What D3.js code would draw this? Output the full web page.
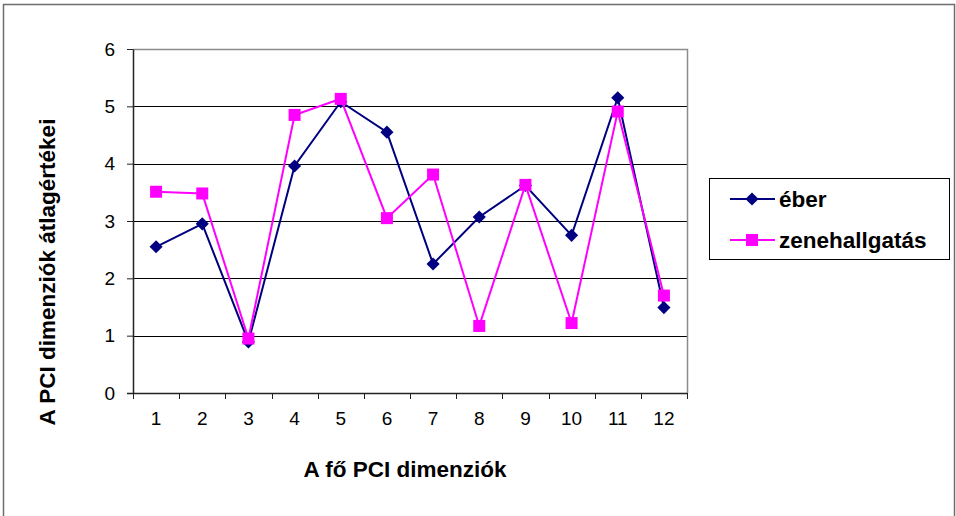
<!DOCTYPE html>
<html>
<head>
<meta charset="utf-8">
<script src="https://cdn.jsdelivr.net/npm/d3@7"></script>
<style>
  html, body { margin: 0; padding: 0; background: #fff; }
  svg { display: block; }
  text { font-family: Arial, "Liberation Sans", sans-serif; }
</style>
</head>
<body>
<svg id="chart" width="956" height="516"></svg>
<script>
// Categories: the 12 main PCI dimensions
const categories = ["1", "2", "3", "4", "5", "6", "7", "8", "9", "10", "11", "12"];
// Mean values per dimension
const eber = [2.55, 2.95, 0.89, 3.96, 5.08, 4.55, 2.25, 3.07, 3.62, 2.75, 5.15, 1.49];
const zenehallgatas = [3.51, 3.48, 0.95, 4.85, 5.13, 3.05, 3.81, 1.17, 3.63, 1.22, 4.91, 1.70];
const yTicks = [0, 1, 2, 3, 4, 5, 6];
const seriesNames = ["éber", "zenehallgatás"];

const svg = d3.select("#chart");

// Outer chart frame
svg.append("rect")
  .attr("x", 3.5).attr("y", 4.5)
  .attr("width", 951).attr("height", 520)
  .attr("fill", "#fff")
  .attr("stroke", "#6e6e6e").attr("stroke-width", 1.5);

const plot = { left: 133, right: 687, top: 49, bottom: 393 };

const x = d3.scaleBand().domain(categories).range([plot.left, plot.right]);
const y = d3.scaleLinear().domain([0, 6]).range([plot.bottom, plot.top]);

// Horizontal gridlines
svg.append("g")
  .selectAll("line")
  .data(yTicks.filter(t => t > 0 && t < 6))
  .join("line")
  .attr("x1", plot.left).attr("x2", plot.right)
  .attr("y1", d => Math.round(y(d)) + 0.5).attr("y2", d => Math.round(y(d)) + 0.5)
  .attr("stroke", "#000").attr("stroke-width", 1);

// Plot-area border (top and right)
svg.append("path")
  .attr("d", `M${plot.left},${plot.top + 0.5}H${plot.right + 0.5}V${plot.bottom}`)
  .attr("fill", "none")
  .attr("stroke", "#8c8c8c").attr("stroke-width", 1.5);

// Y axis
const yAxis = svg.append("g")
  .attr("transform", `translate(${plot.left},0)`)
  .call(d3.axisLeft(y).tickValues(yTicks).tickFormat(d3.format("d"))
    .tickSize(6).tickPadding(12).tickSizeOuter(0));
yAxis.select(".domain").attr("stroke", "#222").attr("stroke-width", 1.5);
yAxis.selectAll(".tick line").attr("stroke", "#222");
yAxis.selectAll("text").attr("font-size", 19).attr("fill", "#000")
  .attr("font-family", "Arial, 'Liberation Sans', sans-serif");

// X axis: ticks on category boundaries, labels centred in each band
const boundaries = categories.map(c => x(c)).concat([plot.right]);
const xAxisG = svg.append("g");
xAxisG.append("line")
  .attr("x1", plot.left - 6).attr("x2", plot.right)
  .attr("y1", plot.bottom + 0.5).attr("y2", plot.bottom + 0.5)
  .attr("stroke", "#222").attr("stroke-width", 1.5);
xAxisG.selectAll(".bt")
  .data(boundaries)
  .join("line")
  .attr("x1", d => Math.round(d) + 0.5).attr("x2", d => Math.round(d) + 0.5)
  .attr("y1", plot.bottom).attr("y2", plot.bottom + 6)
  .attr("stroke", "#222");
xAxisG.selectAll("text")
  .data(categories)
  .join("text")
  .attr("x", d => x(d) + x.bandwidth() / 2)
  .attr("y", plot.bottom + 32)
  .attr("text-anchor", "middle")
  .attr("font-size", 19)
  .text(d => d);

// Series
const cx = d => x(d) + x.bandwidth() / 2;
const line = d3.line()
  .x((d, i) => cx(categories[i]))
  .y(d => y(d));

const diamond = d3.symbol().type(d3.symbolDiamond2).size(110);

// éber – navy line with diamonds
svg.append("path")
  .datum(eber)
  .attr("d", line)
  .attr("fill", "none")
  .attr("stroke", "#000080").attr("stroke-width", 2);
svg.append("g")
  .selectAll("path")
  .data(eber)
  .join("path")
  .attr("d", diamond)
  .attr("transform", (d, i) => `translate(${cx(categories[i])},${y(d)})`)
  .attr("fill", "#000080");

// zenehallgatás – magenta line with squares
svg.append("path")
  .datum(zenehallgatas)
  .attr("d", line)
  .attr("fill", "none")
  .attr("stroke", "#ff00ff").attr("stroke-width", 2);
const sq = 12;
svg.append("g")
  .selectAll("rect")
  .data(zenehallgatas)
  .join("rect")
  .attr("x", (d, i) => cx(categories[i]) - sq / 2)
  .attr("y", d => y(d) - sq / 2)
  .attr("width", sq).attr("height", sq)
  .attr("fill", "#ff00ff");

// Legend
const legend = svg.append("g");
legend.append("rect")
  .attr("x", 709.5).attr("y", 178.5)
  .attr("width", 240).attr("height", 81)
  .attr("fill", "#fff").attr("stroke", "#000").attr("stroke-width", 1);
const legendRows = [199, 240];
const legendColors = ["#000080", "#ff00ff"];
seriesNames.forEach((name, i) => {
  const ly = legendRows[i];
  legend.append("line")
    .attr("x1", 730).attr("x2", 775)
    .attr("y1", ly).attr("y2", ly)
    .attr("stroke", legendColors[i]).attr("stroke-width", 2);
  if (i === 0) {
    legend.append("path")
      .attr("d", diamond)
      .attr("transform", `translate(752,${ly})`)
      .attr("fill", legendColors[i]);
  } else {
    legend.append("rect")
      .attr("x", 752 - sq / 2).attr("y", ly - sq / 2)
      .attr("width", sq).attr("height", sq)
      .attr("fill", legendColors[i]);
  }
  legend.append("text")
    .attr("x", 779).attr("y", ly + 8)
    .attr("font-size", 22.5).attr("font-weight", "bold")
    .text(name);
});

// Axis titles
svg.append("text")
  .attr("x", 405).attr("y", 477)
  .attr("text-anchor", "middle")
  .attr("font-size", 22.5).attr("font-weight", "bold")
  .text("A fő PCI dimenziók");

svg.append("text")
  .attr("transform", "translate(55,272) rotate(-90)")
  .attr("text-anchor", "middle")
  .attr("font-size", 22.5).attr("font-weight", "bold")
  .text("A PCI dimenziók átlagértékei");
</script>
</body>
</html>
